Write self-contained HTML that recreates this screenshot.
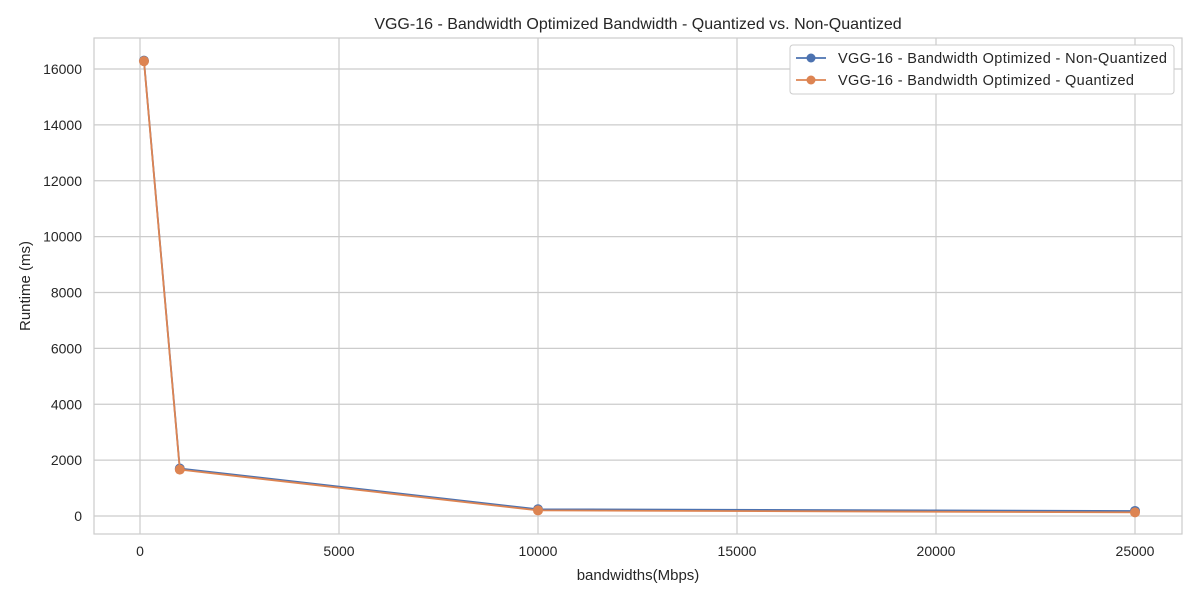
<!DOCTYPE html>
<html><head><meta charset="utf-8"><style>
body{margin:0;background:#fff;font-family:"Liberation Sans","DejaVu Sans",sans-serif;}
</style></head><body>
<svg id="chart" width="1200" height="600" style="font-family:'Liberation Sans','DejaVu Sans',sans-serif">
<text x="638" y="29" text-anchor="middle" font-size="16" fill="#262626">VGG-16 - Bandwidth Optimized Bandwidth - Quantized vs. Non-Quantized</text>
<g id="grid"></g>
<rect x="94" y="38" width="1088" height="496" fill="none" stroke="#cccccc" stroke-width="1.2"/>
<g id="series"></g>
<text x="638" y="580" text-anchor="middle" font-size="15" fill="#262626">bandwidths(Mbps)</text>
<text transform="translate(30,286) rotate(-90)" text-anchor="middle" font-size="15" fill="#262626">Runtime (ms)</text>
<g>
<rect x="790" y="45" width="384" height="49" rx="3" fill="#fff" stroke="#cccccc"/>
<g>
<line x1="796" y1="58" x2="826" y2="58" stroke="#4c72b0" stroke-width="1.8"/><circle cx="811" cy="58" r="4.5" fill="#4c72b0"/>
<text x="838" y="63" font-size="14.5" fill="#262626" textLength="329">VGG-16 - Bandwidth Optimized - Non-Quantized</text></g>
<g>
<line x1="796" y1="80" x2="826" y2="80" stroke="#dd8452" stroke-width="1.8"/><circle cx="811" cy="80" r="4.5" fill="#dd8452"/>
<text x="838" y="85" font-size="14.5" fill="#262626" textLength="296">VGG-16 - Bandwidth Optimized - Quantized</text></g>
</g>
</svg>
<script>
const bandwidths=[100,1000,10000,25000];
const nonQuantized=[16300,1700,240,180];
const quantized=[16280,1660,200,130];
const xTicks=[0,5000,10000,15000,20000,25000];
const yTicks=[0,2000,4000,6000,8000,10000,12000,14000,16000];
const NS='http://www.w3.org/2000/svg';
const xs=v=>140+v*(1135-140)/25000;
const ys=v=>516-v*(516-69)/16000;
const grid=document.getElementById('grid'),ser=document.getElementById('series');
function mk(t,a,p){const e=document.createElementNS(NS,t);for(const k in a)e.setAttribute(k,a[k]);p.appendChild(e);return e;}
xTicks.forEach(t=>{
 const l=mk('line',{x1:xs(t),x2:xs(t),y1:38,y2:534,stroke:'#cccccc','stroke-width':1.2},grid);
 
 
 const tx=mk('text',{x:xs(t),y:556,'text-anchor':'middle','font-size':14,fill:'#262626'},grid);tx.textContent=t;
 
 
});
yTicks.forEach(t=>{
 const l=mk('line',{x1:94,x2:1182,y1:ys(t),y2:ys(t),stroke:'#cccccc','stroke-width':1.2},grid);
 
 
 const tx=mk('text',{x:82,y:ys(t)+5,'text-anchor':'end','font-size':14,fill:'#262626'},grid);tx.textContent=t;
 
 
});
[[nonQuantized,'#4c72b0','non-quantized'],[quantized,'#dd8452','quantized']].forEach(([vals,c,n])=>{
 const pl=mk('polyline',{points:vals.map((v,i)=>xs(bandwidths[i])+','+ys(v)).join(' '),fill:'none',stroke:c,'stroke-width':1.8},ser);
 
 
 vals.forEach((v,i)=>{const p=mk('circle',{cx:xs(bandwidths[i]),cy:ys(v),r:5,fill:c},ser);
  
  });
});
</script>
</body></html>
